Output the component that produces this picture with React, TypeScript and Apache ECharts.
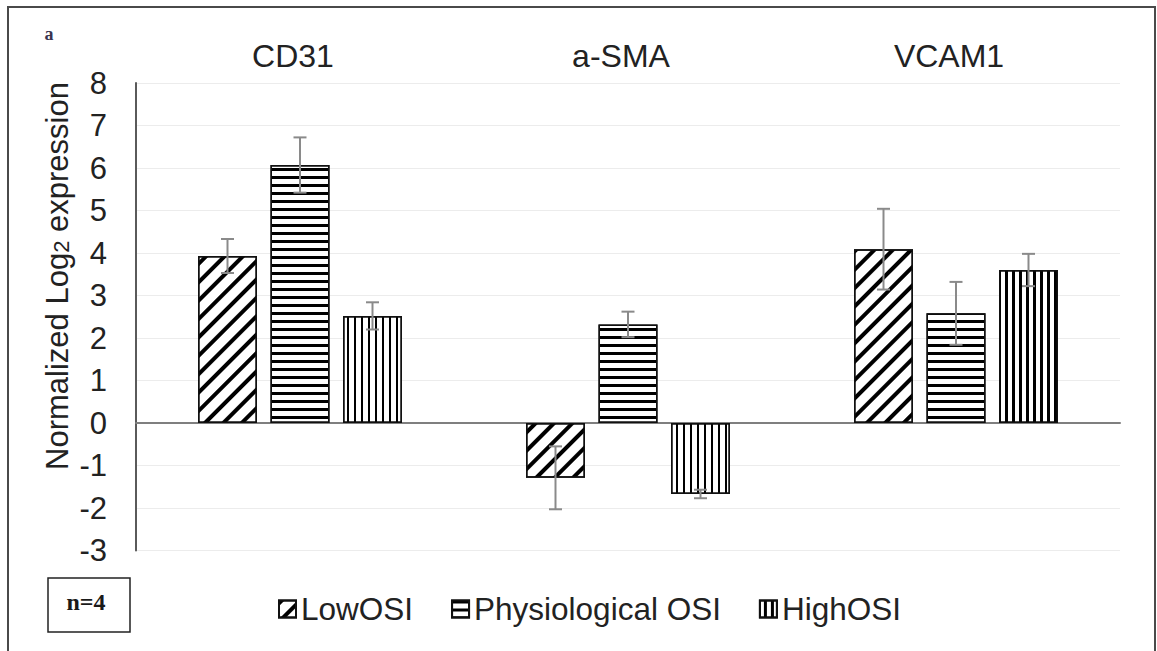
import React, { useEffect, useRef } from "react";
import * as echarts from "echarts";

// Gene categories and series names
const categories = ["CD31", "a-SMA", "VCAM1"];
const seriesNames = ["LowOSI", "Physiological OSI", "HighOSI"];

// Mean normalized log2 expression per condition
const lowOSI = [3.93, -1.29, 4.09];
const physioOSI = [6.07, 2.32, 2.58];
const highOSI = [2.52, -1.67, 3.6];

// Error (± half-range) per condition
const lowOSIErr = [0.4, 0.74, 0.95];
const physioOSIErr = [0.65, 0.3, 0.74];
const highOSIErr = [0.32, 0.1, 0.38];

// Value axis range
const yMin = -3;
const yMax = 8;
const yStep = 1;

const FONT = "'Liberation Sans', Arial, Helvetica, sans-serif";
const BAR_W = 59;
const BAR_GAP = 13.5;

const decals = [
  { symbol: "rect", symbolSize: 1, color: "#000", dashArrayX: [1, 0], dashArrayY: [4, 9], rotation: -Math.PI / 4 },
  { symbol: "rect", symbolSize: 1, color: "#000", dashArrayX: [1, 0], dashArrayY: [3, 5], rotation: 0 },
  { symbol: "rect", symbolSize: 1, color: "#000", dashArrayX: [1, 0], dashArrayY: [3, 4], rotation: Math.PI / 2 },
];

export default function App() {
  const ref = useRef<HTMLDivElement>(null);

  useEffect(() => {
    if (!ref.current) return;
    const chart = echarts.init(ref.current, undefined, { renderer: "svg" });

    const values = [lowOSI, physioOSI, highOSI];
    const errs = [lowOSIErr, physioOSIErr, highOSIErr];

    const errData: number[][] = [];
    values.forEach((arr, s) => {
      arr.forEach((v, i) => errData.push([i, v, errs[s][i], s]));
    });

    const barSeries = seriesNames.map((name, s) => ({
      name,
      type: "bar",
      xAxisIndex: 0,
      barWidth: BAR_W,
      barGap: (BAR_GAP / BAR_W) * 100 + "%",
      data: values[s],
      itemStyle: {
        color: "#ffffff",
        borderColor: "#111",
        borderWidth: 1.5,
        decal: decals[s],
      },
      z: 2,
    }));

    const option: any = {
      animation: false,
      textStyle: { fontFamily: FONT },
      grid: { left: 136, right: 37, top: 83, bottom: 100.5, containLabel: false },
      legend: {
        data: seriesNames,
        left: 273,
        top: 588,
        icon: "rect",
        itemWidth: 17,
        itemHeight: 17,
        itemGap: 38,
        textStyle: { fontSize: 31.5, color: "#222", fontFamily: FONT },
      },
      xAxis: [
        {
          type: "category",
          data: categories,
          axisLine: { onZero: true, lineStyle: { color: "#7f7f7f", width: 2 } },
          axisTick: { show: false },
          axisLabel: { show: false },
          splitLine: { show: false },
        },
        {
          type: "category",
          data: categories,
          position: "top",
          axisLine: { show: false, onZero: false },
          axisTick: { show: false },
          axisLabel: {
            show: true,
            fontSize: 32,
            color: "#222",
            margin: 11,
            padding: [0, 14, 0, 0],
            fontFamily: FONT,
          },
          splitLine: { show: false },
        },
      ],
      yAxis: {
        type: "value",
        min: yMin,
        max: yMax,
        interval: yStep,
        axisLine: { show: true, lineStyle: { color: "#5a5a5a", width: 2 } },
        axisTick: { show: false },
        axisLabel: { fontSize: 31, color: "#222", margin: 29, fontFamily: FONT },
        splitLine: { show: true, lineStyle: { color: "#ececec", width: 1 } },
      },
      series: [
        ...barSeries,
        {
          type: "custom",
          name: "error",
          xAxisIndex: 0,
          data: errData,
          encode: { x: 0, y: 1 },
          z: 5,
          silent: true,
          renderItem: (_params: any, api: any) => {
            const cat = api.value(0);
            const val = api.value(1);
            const err = api.value(2);
            const s = api.value(3);
            const base = api.coord([cat, val]);
            const x = base[0] + (s - 1) * (BAR_W + BAR_GAP);
            const yHi = api.coord([cat, val + err])[1];
            const yLo = api.coord([cat, val - err])[1];
            const capHalf = 6.5;
            const st = { stroke: "#8a8a8a", lineWidth: 2 };
            return {
              type: "group",
              children: [
                { type: "line", shape: { x1: x, y1: yHi, x2: x, y2: yLo }, style: st },
                { type: "line", shape: { x1: x - capHalf, y1: yHi, x2: x + capHalf, y2: yHi }, style: st },
                { type: "line", shape: { x1: x - capHalf, y1: yLo, x2: x + capHalf, y2: yLo }, style: st },
              ],
            };
          },
        },
      ],
      graphic: [
        {
          type: "rect",
          shape: { x: 8, y: 7, width: 1147, height: 660 },
          style: { fill: "none", stroke: "#4a4a4a", lineWidth: 2 },
          silent: true,
        },
        {
          type: "text",
          x: 49,
          y: 34,
          style: {
            text: "a",
            font: "bold 18px 'Liberation Serif', 'Times New Roman', serif",
            fill: "#3a3450",
            align: "center",
            verticalAlign: "middle",
          },
        },
        {
          type: "text",
          x: 55,
          y: 276,
          rotation: Math.PI / 2,
          style: {
            text: "{a|Normalized Log}{b|2}{a| expression}",
            align: "center",
            verticalAlign: "middle",
            rich: {
              a: { fontSize: 31, fontFamily: FONT, fill: "#222", lineHeight: 35, verticalAlign: "bottom" },
              b: { fontSize: 22, fontFamily: FONT, fill: "#222", lineHeight: 35, verticalAlign: "bottom", padding: [6, 0, 0, 0] },
            },
          },
        },
        {
          type: "rect",
          shape: { x: 48, y: 578, width: 82, height: 54 },
          style: { fill: "#fff", stroke: "#222", lineWidth: 1.5 },
        },
        {
          type: "text",
          x: 86,
          y: 602,
          style: {
            text: "n=4",
            font: "bold 24px 'Liberation Serif', 'Times New Roman', serif",
            fill: "#1a1a1a",
            align: "center",
            verticalAlign: "middle",
          },
        },
      ],
    };

    chart.setOption(option);
    return () => chart.dispose();
  }, []);

  return (
    <div
      ref={ref}
      style={{ position: "absolute", left: 0, top: 0, width: 1157, height: 651, background: "#fff" }}
    />
  );
}
